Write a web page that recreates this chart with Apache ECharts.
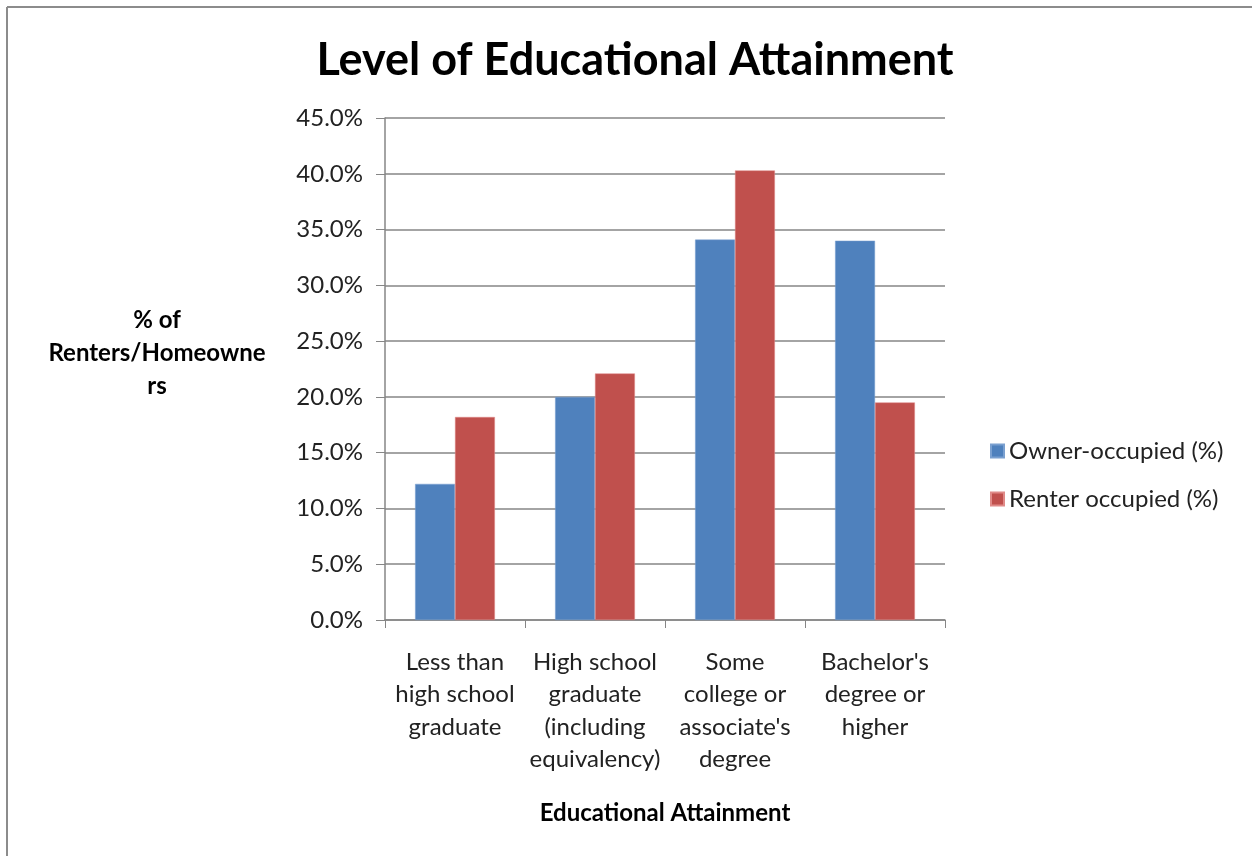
<!DOCTYPE html>
<html>
<head>
<meta charset="utf-8">
<script src="https://cdn.jsdelivr.net/npm/echarts@6/dist/echarts.min.js"></script>
<style>
html,body{margin:0;padding:0;background:#fff;}
#chart{width:1252px;height:856px;}
</style>
</head>
<body>
<div id="chart"></div>
<script>
const categories = [
  "Less than\nhigh school\ngraduate",
  "High school\ngraduate\n(including\nequivalency)",
  "Some\ncollege or\nassociate's\ndegree",
  "Bachelor's\ndegree or\nhigher"
];
const seriesNames = ["Owner-occupied (%)", "Renter occupied (%)"];
const ownerValues = [12.2, 20.0, 34.1, 34.0];
const renterValues = [18.2, 22.1, 40.3, 19.5];
const chartTitle = "Level of Educational Attainment";
const xAxisTitle = "Educational Attainment";
const yAxisTitle = "% of\nRenters/Homeowne\nrs";

const FONT = "Lato, 'Open Sans', sans-serif";
const chart = echarts.init(document.getElementById('chart'));
chart.setOption({
  animation: false,
  backgroundColor: '#fff',
  textStyle: { fontFamily: FONT },
  graphic: [
    { type: 'line', shape: { x1: 7, y1: 7, x2: 1252, y2: 7 }, style: { stroke: '#8c8c8c', lineWidth: 2 } },
    { type: 'line', shape: { x1: 7, y1: 7, x2: 7, y2: 856 }, style: { stroke: '#8c8c8c', lineWidth: 2 } },
    { type: 'text', x: 157, y: 353,
      style: { text: yAxisTitle, x: 0, y: 0, align: 'center', verticalAlign: 'middle',
               fontFamily: FONT, fontSize: 24, fontWeight: 'bold', fill: '#000', lineHeight: 33 } }
  ],
  title: {
    text: chartTitle,
    left: 630, top: 33, textAlign: 'center',
    textStyle: { fontFamily: FONT, fontSize: 45, fontWeight: 'bold', color: '#000' }
  },
  legend: {
    orient: 'vertical',
    left: 990, top: 439, padding: 0,
    itemWidth: 13, itemHeight: 13, itemGap: 24,
    icon: 'rect',
    textStyle: { fontFamily: FONT, fontSize: 24, color: '#222' },
    data: seriesNames
  },
  grid: { left: 385, right: 307, top: 118, bottom: 236, containLabel: false },
  xAxis: {
    type: 'category',
    data: categories,
    name: xAxisTitle,
    nameLocation: 'middle',
    nameGap: 181,
    nameTextStyle: { fontFamily: FONT, fontSize: 24, fontWeight: 'bold', color: '#000' },
    axisLine: { lineStyle: { color: '#868686', width: 1.5 } },
    axisTick: { show: true, length: 8, interval: 0, lineStyle: { color: '#868686' } },
    axisLabel: { interval: 0, fontFamily: FONT, fontSize: 24, color: '#222', lineHeight: 32.5, margin: 26 },
    splitLine: { show: false }
  },
  yAxis: {
    type: 'value',
    min: 0, max: 45, interval: 5,
    axisLine: { show: true, lineStyle: { color: '#868686', width: 1.5 } },
    axisTick: { show: true, inside: false, length: 9, lineStyle: { color: '#868686' } },
    axisLabel: { fontFamily: FONT, fontSize: 24, color: '#222', margin: 22, formatter: v => v.toFixed(1) + '%' },
    splitLine: { show: true, lineStyle: { color: '#868686', width: 1.5 } }
  },
  series: [
    { name: seriesNames[0], type: 'bar', data: ownerValues, barGap: '0%', barCategoryGap: '43%',
      itemStyle: { color: '#4F81BD', borderColor: '#7aa0d0', borderWidth: 0.5 } },
    { name: seriesNames[1], type: 'bar', data: renterValues, barGap: '0%', barCategoryGap: '43%',
      itemStyle: { color: '#C0504D', borderColor: '#e08a88', borderWidth: 0.5 } }
  ]
});
</script>
</body>
</html>
